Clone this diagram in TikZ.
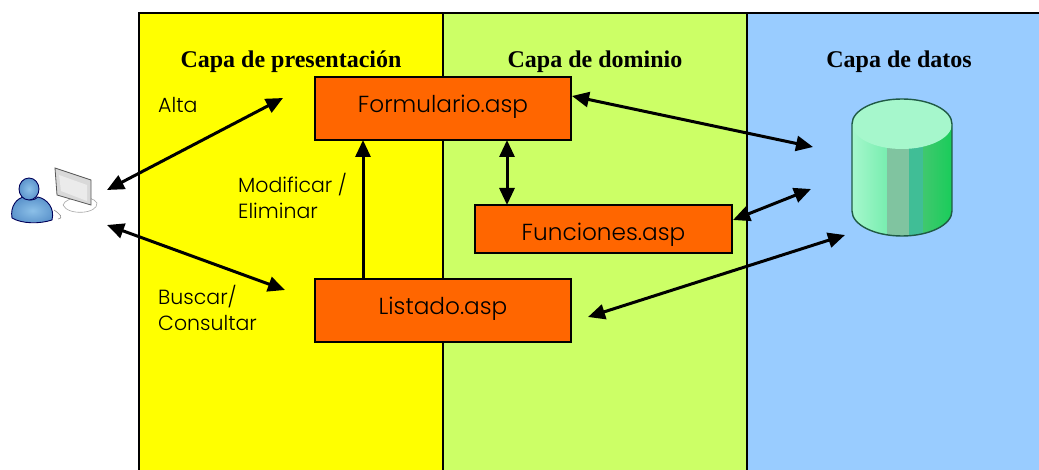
\documentclass[tikz,border=0pt]{standalone}
\usepackage{fontspec}
\setmainfont{Poppins Light}
\newfontfamily\titlefont{Liberation Serif}
\usetikzlibrary{arrows.meta}
\definecolor{capaA}{HTML}{FFFF00}
\definecolor{capaB}{HTML}{CCFF66}
\definecolor{capaC}{HTML}{99CCFF}
\definecolor{caja}{HTML}{FF6600}
\definecolor{bdTapa}{HTML}{A6F7CC}
\definecolor{bdBorde}{HTML}{1F5A45}
\definecolor{bdMedio}{HTML}{78EEB0}
\definecolor{bdGris}{HTML}{80C4A0}
\definecolor{bdTeal}{HTML}{40BE96}
\definecolor{bdVerde}{HTML}{40C86E}
\definecolor{bdVivo}{HTML}{19CD5A}
\definecolor{persona}{HTML}{5C94CC}
\definecolor{personaClaro}{HTML}{8CC0E8}
\tikzset{
  x=1pt,y=-1pt,
  capa/.style={draw=black,line width=1.6pt,outer sep=0pt,anchor=north west,inner sep=0pt,minimum height=460pt},
  caja/.style={draw=black,line width=1.5pt,outer sep=0pt,fill=caja,anchor=north west,inner sep=0pt,font=\fontsize{23.2}{24}\selectfont},
  titulo/.style={font=\titlefont\bfseries\fontsize{24}{26}\selectfont,inner sep=0pt,anchor=base},
  etiqueta/.style={font=\fontsize{20.5}{26}\selectfont,inner sep=0pt,anchor=north west,align=left},
  flecha/.style={line width=3pt,black,{Triangle[length=17pt,width=15pt]}-{Triangle[length=17pt,width=15pt]}},
  unaflecha/.style={line width=3pt,black,-{Triangle[length=17pt,width=15pt]}}
}
\begin{document}
\begin{tikzpicture}
\useasboundingbox (0,0) rectangle (1039,470);
\fill[white] (0,0) rectangle (1039,470);
% capas
\node[capa,fill=capaA,minimum width=304pt] (capa1) at (139,13) {};
\node[capa,fill=capaB,minimum width=304pt] (capa2) at (443,13) {};
\node[capa,fill=capaC,minimum width=296pt] (capa3) at (747,13) {};
\node[titulo] (t1) at (291,68) {Capa de presentación};
\node[titulo] (t2) at (595,68) {Capa de dominio};
\node[titulo] (t3) at (899,68) {Capa de datos};
% cajas
\node[caja,minimum width=256pt,minimum height=63pt] (form) at (315,77) {\rule[-9pt]{0pt}{9pt}Formulario.asp};
\node[caja,minimum width=257pt,minimum height=48pt] (func) at (475,205) {\rule{0pt}{28pt}Funciones.asp};
\node[caja,minimum width=256pt,minimum height=63pt] (list) at (315,279) {\rule[-9pt]{0pt}{9pt}Listado.asp};
% etiquetas
\node[etiqueta] (alta) at (158,97) {Alta};
\node[etiqueta] (modif) at (238,173) {Modificar /\\Eliminar};
\node[etiqueta] (busc) at (158,285) {Buscar/\\Consultar};
% base de datos
\begin{scope}
\clip (852,124) -- (852,211) arc[start angle=180,end angle=360,x radius=50,y radius=-25] -- (952,124) -- cycle;
\fill[left color=bdTapa,right color=bdMedio] (852,100) rectangle (887,240);
\fill[bdGris] (887,100) rectangle (909,240);
\fill[bdTeal] (909,100) rectangle (923,240);
\fill[left color=bdVerde,right color=bdVivo] (923,100) rectangle (952,240);
\end{scope}
\fill[bdTapa] (902,124) ellipse[x radius=50,y radius=25];
\draw[line width=1.4pt,bdBorde] (852,211) -- (852,124) arc[start angle=180,end angle=0,x radius=50,y radius=-25] -- (952,211);
\draw[line width=1.4pt,bdBorde] (852,211) arc[start angle=180,end angle=360,x radius=50,y radius=-25];
\coordinate (bdA) at (813,147);
\coordinate (bdB) at (811,189);
\coordinate (bdC) at (845,235);
% usuario
\draw[black!35,fill=white,line width=0.6pt] (63,205) .. controls (66,196) and (92,194) .. (97,203) .. controls (98,214) and (68,216) .. (63,205);
\draw[black!65,fill=black!15,line width=0.8pt] (55,168) -- (91,180) -- (91,205) -- (57,195) -- cycle;
\fill[white!92!black] (59,175) -- (87,185) -- (87,201) -- (61,191) -- cycle;
\draw[black!45,line width=0.6pt] (54,210) .. controls (60,214) and (64,218) .. (58,219);
\draw[black!65!blue,inner color=personaClaro,outer color=persona,line width=0.9pt] (12,218) .. controls (10,206) and (17,198) .. (24,197) .. controls (28,201) and (34,201) .. (38,197) .. controls (47,199) and (55,208) .. (52,220) .. controls (40,224) and (22,224) .. (12,218) -- cycle;
\draw[black!65!blue,inner color=personaClaro,outer color=persona,line width=0.9pt] (29,189) ellipse[x radius=10,y radius=11];
\coordinate (usrA) at (107,190);
\coordinate (usrB) at (107,225);
% conectores
\coordinate (altaFin) at (283,98);
\coordinate (buscFin) at (285,290);
\draw[flecha] (usrA) -- (altaFin);
\draw[flecha] (usrB) -- (buscFin);
\draw[unaflecha] (list.north -| 363,0) -- (form.south -| 363,0);
\draw[flecha] (form.south -| 507,0) -- (func.north -| 507,0);
\coordinate (formE) at (572,96);
\coordinate (funcE) at (733,220);
\coordinate (listE) at (588,317);
\draw[flecha] (formE) -- (bdA);
\draw[flecha] (funcE) -- (bdB);
\draw[flecha] (listE) -- (bdC);
\end{tikzpicture}
\end{document}
